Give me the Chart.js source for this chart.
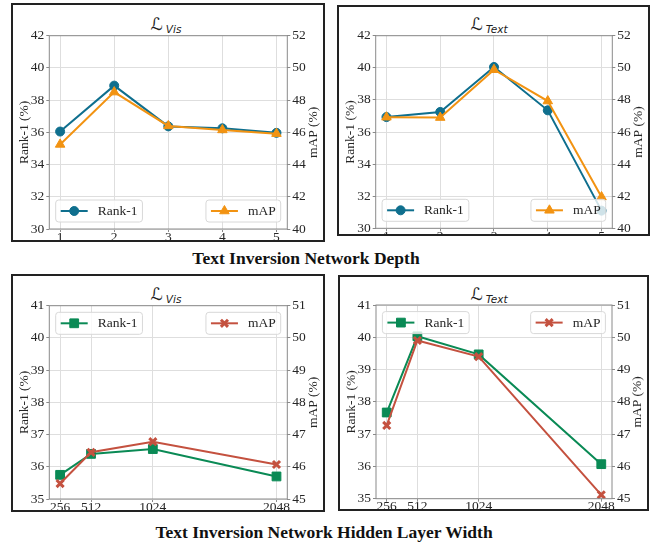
<!DOCTYPE html>
<html>
<head>
<meta charset="utf-8">
<script src="https://cdn.jsdelivr.net/npm/chart.js@4.4.1/dist/chart.umd.min.js"></script>
<style>
  body { margin: 0; background: #fff; width: 651px; height: 544px; position: relative; overflow: hidden; font-family: "Liberation Serif", serif; }
  .panel { position: absolute; overflow: hidden; }
  .frame { position: absolute; border: 2px solid #222; box-sizing: border-box; pointer-events: none; }
  .ptitle { position: absolute; transform: translateX(-50%); white-space: nowrap; color: #222; line-height: 20px; }
  .cal { font-family: "DejaVu Sans", sans-serif; font-size: 17px; }
  .sub { font-family: "DejaVu Sans", sans-serif; font-style: italic; font-size: 10.5px; position: relative; top: 3px; margin-left: 3px; }
  .group { position: absolute; font-weight: bold; font-size: 17.5px; transform: translateX(-50%); white-space: nowrap; color: #111; line-height: 20px; }
</style>
</head>
<body>

<div class="ptitle" style="left:166px; top:14px;"><span class="cal">ℒ</span><span class="sub">Vis</span></div>
<div class="ptitle" style="left:489px; top:14px;"><span class="cal">ℒ</span><span class="sub">Text</span></div>
<div class="ptitle" style="left:166px; top:284px;"><span class="cal">ℒ</span><span class="sub">Vis</span></div>
<div class="ptitle" style="left:489px; top:284px;"><span class="cal">ℒ</span><span class="sub">Text</span></div>
<div class="group" style="left:306px; top:248px;">Text Inversion Network Depth</div>
<div class="group" style="left:324px; top:522px;">Text Inversion Network Hidden Layer Width</div>

<script>
// network depth experiments
const depthX = [1, 2, 3, 4, 5];
const visDepthRank1 = [36.05, 38.9, 36.37, 36.25, 35.97];
const visDepthMap = [45.25, 48.5, 46.4, 46.15, 45.92];
const textDepthRank1 = [36.93, 37.25, 40.05, 37.35, 31.1];
const textDepthMap = [46.92, 46.9, 49.88, 47.93, 41.95];

// hidden layer width experiments
const widthX = [256, 512, 1024, 2048];
const visWidthRank1 = [35.75, 36.4, 36.55, 35.7];
const visWidthMap = [45.48, 46.45, 46.78, 46.07];
const textWidthRank1 = [37.67, 40.03, 39.47, 36.07];
const textWidthMap = [47.27, 49.9, 49.4, 45.12];

// tick labels
const depthRank1Ticks = [30, 32, 34, 36, 38, 40, 42];
const depthMapTicks = [40, 42, 44, 46, 48, 50, 52];
const widthRank1Ticks = [35, 36, 37, 38, 39, 40, 41];
const widthMapTicks = [45, 46, 47, 48, 49, 50, 51];

const GRID = '#dedede';
const SPINE = '#8a8a8a';
const TEXT = '#262626';
const FONT = { family: '"Liberation Serif", serif', size: 13.5 };

const TEAL = '#0f6f8e', ORANGE = '#f29312';
const GREEN = '#0a8a55', RED = '#c4513f';

const EXTRA = 12; // canvas runs below the frame, clipped by the wrapper

function panelPlugin(p) {
  return {
    id: 'panelDeco',
    afterDatasetsDraw(chart) {
      const ctx = chart.ctx;
      const a = chart.chartArea;
      ctx.save();
      // spines
      ctx.strokeStyle = SPINE;
      ctx.lineWidth = 1;
      ctx.strokeRect(a.left, a.top, a.right - a.left, a.bottom - a.top);

      // axis titles
      ctx.fillStyle = TEXT;
      ctx.font = '13.5px "Liberation Serif", serif';
      ctx.textAlign = 'center';
      ctx.textBaseline = 'middle';
      const midY = (a.top + a.bottom) / 2;
      [[13.5, 'Rank-1 (%)'], [chart.width - 12, 'mAP (%)']].forEach(([tx, label]) => {
        ctx.save();
        ctx.translate(tx, midY);
        ctx.rotate(-Math.PI / 2);
        ctx.fillText(label, 0, 0);
        ctx.restore();
      });

      // legends, one per axis
      const dsets = chart.data.datasets;
      const rank = dsets.find(d => d.label === 'Rank-1');
      const map = dsets.find(d => d.label === 'mAP');
      const h = 22;
      const by = p.legendPos === 'bottom' ? a.bottom - 7 - h : a.top + 6.6;
      ctx.textAlign = 'left';
      ctx.font = '13.5px "Liberation Serif", serif';
      const w1 = 42 + ctx.measureText(rank.label).width + 5;
      const w2 = 42 + ctx.measureText(map.label).width + 5;
      drawLegend(ctx, rank, a.left + 6.4, by, w1, h);
      drawLegend(ctx, map, a.right - 6.6 - w2, by, w2, h);
      ctx.restore();
    }
  };
}

function drawLegend(ctx, ds, x, y, w, h) {
  ctx.save();
  ctx.beginPath();
  ctx.roundRect(x, y, w, h, 3);
  ctx.fillStyle = 'rgba(255,255,255,0.8)';
  ctx.fill();
  ctx.strokeStyle = '#d8d8d8';
  ctx.lineWidth = 1;
  ctx.stroke();
  const cy = y + h / 2;
  ctx.strokeStyle = ds.borderColor;
  ctx.lineWidth = 2;
  ctx.beginPath();
  ctx.moveTo(x + 5, cy);
  ctx.lineTo(x + 32, cy);
  ctx.stroke();
  ctx.fillStyle = ds.pointBackgroundColor;
  ctx.strokeStyle = ds.borderColor;
  ctx.lineWidth = ds.pointBorderWidth;
  Chart.helpers.drawPoint(ctx, {
    pointStyle: ds.pointStyle, radius: ds.pointRadius,
    borderWidth: ds.pointBorderWidth, rotation: 0
  }, x + 18.5, cy);
  ctx.fillStyle = TEXT;
  ctx.textBaseline = 'middle';
  ctx.fillText(ds.label, x + 42, cy + 0.5);
  ctx.restore();
}

function makePanel(p) {
  const [bl, bt, br, bb] = p.box;
  const [pl, pt, pr, pb] = p.plot;
  const w = br - bl, h = bb - bt;
  const ch = h + EXTRA;

  const wrap = document.createElement('div');
  wrap.className = 'panel';
  Object.assign(wrap.style, { left: bl + 'px', top: bt + 'px', width: w + 'px', height: h + 'px' });
  const cv = document.createElement('canvas');
  cv.width = w; cv.height = ch;
  cv.style.width = w + 'px'; cv.style.height = ch + 'px';
  wrap.appendChild(cv);
  document.body.appendChild(wrap);

  const frame = document.createElement('div');
  frame.className = 'frame';
  Object.assign(frame.style, { left: bl + 'px', top: bt + 'px', width: w + 'px', height: h + 'px' });
  document.body.appendChild(frame);

  const toPts = ys => p.x.map((v, i) => ({ x: v, y: ys[i] }));
  const span = p.x[p.x.length - 1] - p.x[0];

  new Chart(cv, {
    type: 'line',
    data: {
      datasets: [
        {
          label: 'mAP', data: toPts(p.map), yAxisID: 'y1', order: 0,
          borderColor: p.mapColor, backgroundColor: p.mapColor,
          pointBackgroundColor: p.mapColor, pointBorderColor: p.mapColor,
          borderWidth: 2, pointStyle: p.mapStyle, pointRadius: p.mapRadius,
          pointBorderWidth: p.mapBorder, tension: 0
        },
        {
          label: 'Rank-1', data: toPts(p.rank), yAxisID: 'y', order: 1,
          borderColor: p.rankColor, backgroundColor: p.rankColor,
          pointBackgroundColor: p.rankColor, pointBorderColor: p.rankColor,
          borderWidth: 2, pointStyle: p.rankStyle, pointRadius: p.rankRadius,
          pointBorderWidth: 1, tension: 0
        }
      ]
    },
    options: {
      responsive: false,
      animation: false,
      layout: { padding: { top: pt - bt, left: 0, right: 0, bottom: 0 } },
      plugins: { legend: { display: false }, tooltip: { enabled: false } },
      scales: {
        x: {
          type: 'linear',
          min: p.x[0] - span * 0.05,
          max: p.x[p.x.length - 1] + span * 0.05,
          afterBuildTicks: s => { s.ticks = p.x.map(v => ({ value: v })); },
          afterFit: s => { s.height = bt + ch - pb; },
          grid: { color: GRID, lineWidth: 1, tickLength: 3, tickColor: SPINE },
          border: { display: false },
          ticks: { font: FONT, color: TEXT, padding: -3, maxRotation: 0, autoSkip: false, callback: v => String(v) }
        },
        y: {
          position: 'left',
          min: p.rankTicks[0], max: p.rankTicks[p.rankTicks.length - 1],
          afterBuildTicks: s => { s.ticks = p.rankTicks.map(v => ({ value: v })); },
          afterFit: s => { s.width = pl - bl; },
          grid: { color: GRID, lineWidth: 1, tickLength: 3, tickColor: SPINE },
          border: { display: false },
          ticks: { font: FONT, color: TEXT, padding: 2, callback: v => String(v) }
        },
        y1: {
          position: 'right',
          min: p.mapTicks[0], max: p.mapTicks[p.mapTicks.length - 1],
          afterBuildTicks: s => { s.ticks = p.mapTicks.map(v => ({ value: v })); },
          afterFit: s => { s.width = br - pr; },
          grid: { drawOnChartArea: false, tickLength: 3, tickColor: SPINE },
          border: { display: false },
          ticks: { font: FONT, color: TEXT, padding: 2, callback: v => String(v) }
        }
      }
    },
    plugins: [panelPlugin(p)]
  });
}

const depthStyle = {
  rankColor: TEAL, mapColor: ORANGE,
  rankStyle: 'circle', rankRadius: 4.5,
  mapStyle: 'triangle', mapRadius: 5.5, mapBorder: 1,
  rankTicks: depthRank1Ticks, mapTicks: depthMapTicks,
  legendPos: 'bottom', x: depthX
};
const widthStyle = {
  rankColor: GREEN, mapColor: RED,
  rankStyle: 'rect', rankRadius: 6.2,
  mapStyle: 'crossRot', mapRadius: 5, mapBorder: 3,
  rankTicks: widthRank1Ticks, mapTicks: widthMapTicks,
  legendPos: 'top', x: widthX
};

makePanel(Object.assign({}, depthStyle, {
  box: [11, 3, 325, 242], plot: [49.3, 35.7, 287.3, 229],
  rank: visDepthRank1, map: visDepthMap
}));
makePanel(Object.assign({}, depthStyle, {
  box: [337, 5, 650, 236], plot: [375.7, 35.7, 612.3, 228.3],
  rank: textDepthRank1, map: textDepthMap
}));
makePanel(Object.assign({}, widthStyle, {
  box: [11, 274, 325, 512], plot: [49.3, 305.7, 287.3, 499],
  rank: visWidthRank1, map: visWidthMap
}));
makePanel(Object.assign({}, widthStyle, {
  box: [338, 275, 649, 511], plot: [376, 305, 612, 498.7],
  rank: textWidthRank1, map: textWidthMap
}));
</script>
</body>
</html>
